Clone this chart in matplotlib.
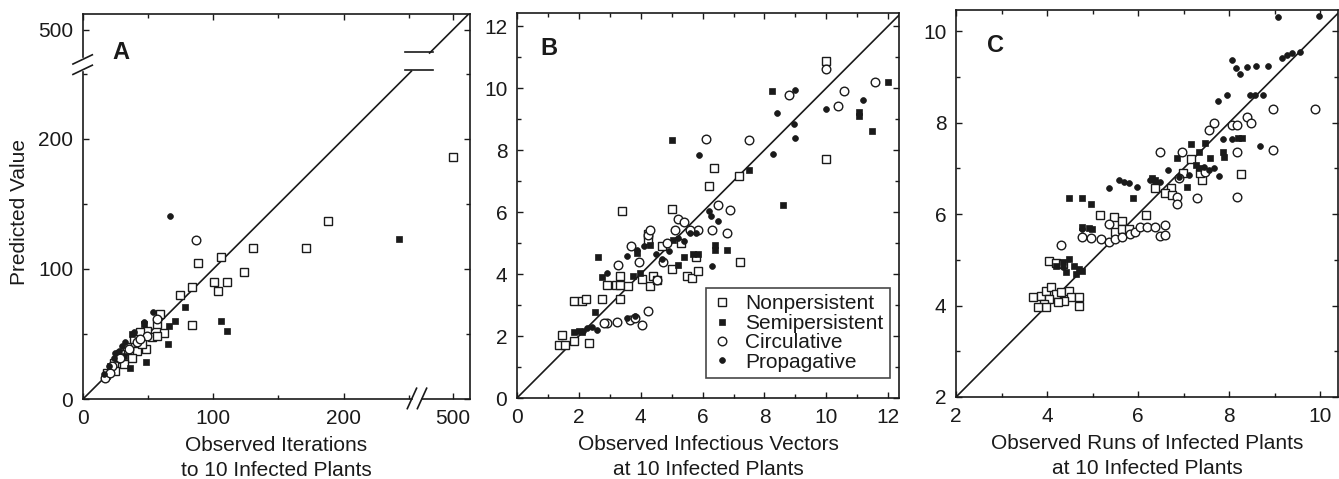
import matplotlib
matplotlib.use("Agg")
import matplotlib.pyplot as plt
from matplotlib.lines import Line2D
import numpy as np

plt.rcParams['font.family'] = ['Liberation Sans', 'DejaVu Sans']

# ---- panel A: iterations to 10 infected plants ----
a_non_x = [500, 187.7, 171.4, 130.4, 123.3, 110.5, 100.3, 103.6, 106.1, 88.0, 83.6, 74.2, 83.6,
           61.9, 58.8, 56.8, 49.1, 48.3, 44.0, 38.9, 33.8, 28.6, 23.5, 18.4, 41.4, 52.9, 45.3,
           37.6, 31.2, 24.8, 56.8]
a_non_y = [185.8, 136.6, 116.4, 116.4, 97.3, 90.0, 90.0, 83.1, 109.4, 104.3, 86.2, 79.7, 57.2,
           50.5, 65.5, 57.7, 52.5, 38.3, 51.2, 46.1, 39.6, 34.4, 27.9, 20.2, 37.0, 47.3, 42.2,
           31.8, 26.6, 21.5, 48.6]
a_semi_x = [242.2, 106.1, 110.5, 78.0, 70.8, 65.0, 65.7, 48.6, 36.3, 46.5, 37.6, 31.2, 26.1, 21.0, 18.4]
a_semi_y = [122.9, 59.8, 52.0, 70.6, 59.8, 42.2, 56.4, 28.5, 24.1, 57.7, 49.9, 33.1, 30.5, 25.4, 17.6]
a_circ_x = [87.0, 56.8, 49.1, 41.4, 35.0, 28.6, 22.3, 17.1, 21.0, 44.0]
a_circ_y = [121.9, 61.6, 48.6, 43.5, 38.3, 31.8, 25.4, 16.3, 20.2, 46.1]
a_prop_x = [67.0, 53.7, 46.5, 38.9, 32.5, 27.4, 23.5, 19.7, 15.9, 29.9, 24.8]
a_prop_y = [141.0, 66.8, 59.0, 51.2, 43.5, 37.0, 31.8, 25.4, 18.9, 40.9, 35.7]

# ---- panel B: infectious vectors ----
b_non_x = [1.35, 1.45, 1.56, 1.83, 2.34, 1.83, 2.1, 2.23, 2.74, 2.9, 3.2, 3.33, 3.33, 3.6, 3.33,
           4.3, 4.03, 4.41, 4.52, 3.41, 5.0, 4.25, 4.25, 5.0, 5.5, 5.65, 5.84, 5.8, 7.2, 6.2,
           6.38, 7.17, 10.0, 10.0, 5.3, 4.7]
b_non_y = [1.72, 2.02, 1.72, 1.83, 1.77, 3.14, 3.14, 3.2, 3.2, 3.63, 3.63, 3.63, 3.19, 3.6, 3.92,
           3.6, 3.84, 3.95, 3.82, 6.04, 6.10, 5.3, 5.1, 4.16, 3.92, 3.87, 4.09, 4.54, 4.38, 6.85,
           7.42, 7.15, 10.86, 7.71, 5.0, 4.9]
b_semi_x = [5.0, 8.26, 8.6, 11.48, 11.99, 11.05, 11.05, 7.5, 2.63, 2.74, 2.53, 1.83, 2.0, 2.1,
            6.4, 6.4, 6.8, 5.22, 5.41, 5.7, 5.86, 3.87, 3.76, 3.98, 5.05, 4.3]
b_semi_y = [8.33, 9.89, 6.24, 8.62, 10.2, 9.22, 9.1, 7.37, 4.54, 3.89, 2.77, 2.13, 2.17, 2.13,
            4.95, 4.76, 4.78, 4.28, 4.54, 4.65, 4.63, 4.68, 3.92, 4.03, 5.1, 4.95]
b_circ_x = [9.98, 8.8, 10.56, 10.38, 11.56, 6.1, 7.5, 6.5, 6.9, 6.8, 6.29, 5.86, 5.22, 5.41, 5.1,
            3.7, 3.25, 4.22, 4.03, 3.66, 3.82, 3.23, 2.9, 2.8, 4.52, 4.73, 4.25, 4.3, 3.96, 5.6, 4.84]
b_circ_y = [10.6, 9.78, 9.89, 9.41, 10.2, 8.35, 8.33, 6.24, 6.05, 5.32, 5.41, 5.43, 5.77, 5.67, 5.41,
            4.89, 4.28, 2.8, 2.37, 2.53, 2.58, 2.44, 2.42, 2.42, 3.82, 4.4, 5.27, 5.43, 4.4, 5.43, 5.0]
b_prop_x = [8.98, 8.39, 8.96, 8.98, 8.28, 5.89, 9.98, 11.18, 6.2, 6.27, 6.5, 6.29, 2.9, 2.58, 2.26,
            2.42, 3.55, 3.82, 2.15, 3.87, 3.55, 4.5, 4.9, 5.2, 5.4, 5.6, 5.8, 4.1, 4.7]
b_prop_y = [9.95, 9.19, 8.84, 8.39, 7.87, 7.85, 9.32, 9.62, 6.04, 5.88, 5.7, 4.27, 4.03, 2.2, 2.26,
            2.29, 2.58, 2.66, 2.15, 4.78, 4.57, 4.63, 4.74, 5.16, 5.05, 5.32, 5.32, 4.9, 4.5]

# ---- panel C: runs of infected plants ----
c_non_x = [8.26, 5.16, 5.47, 5.65, 6.18, 6.71, 6.6, 6.74, 6.38, 6.99, 7.17, 7.40, 7.36, 5.50, 5.65,
           5.80, 4.04, 4.19, 4.34, 3.68, 3.86, 3.97, 4.08, 4.19, 4.30, 4.48, 4.52, 4.69, 4.69,
           4.37, 4.23, 4.04, 3.93, 3.97, 3.79]
c_non_y = [6.87, 5.97, 5.93, 5.84, 5.97, 6.57, 6.45, 6.41, 6.56, 6.89, 7.21, 6.74, 6.89, 5.60, 5.68,
           5.68, 4.98, 4.94, 4.91, 4.18, 4.21, 4.32, 4.40, 4.25, 4.29, 4.32, 4.18, 4.18, 4.0,
           4.1, 4.08, 4.14, 4.03, 3.96, 3.96]
c_semi_x = [4.48, 4.77, 4.96, 5.89, 7.17, 7.47, 7.57, 6.85, 7.07, 7.86, 7.88, 8.2, 8.28, 4.77, 4.92,
            4.99, 4.19, 4.34, 4.48, 4.59, 4.70, 4.77, 4.41, 4.63, 6.31, 6.38, 7.26, 7.33, 7.33]
c_semi_y = [6.36, 6.36, 6.23, 6.34, 7.53, 7.55, 7.23, 7.23, 6.59, 7.36, 7.25, 7.66, 7.66, 5.71, 5.69,
            5.68, 4.87, 4.95, 5.02, 4.87, 4.80, 4.76, 4.73, 4.69, 6.78, 6.74, 7.07, 7.00, 7.36]
c_circ_x = [8.97, 9.88, 8.97, 8.17, 8.17, 8.39, 8.48, 8.06, 8.17, 7.55, 7.66, 7.29, 6.47, 6.96, 6.85,
            6.85, 6.89, 4.30, 4.77, 4.96, 5.18, 5.36, 5.50, 5.65, 5.83, 5.94, 6.05, 6.20, 6.38,
            6.49, 6.58, 6.58, 5.36, 7.47]
c_circ_y = [8.29, 8.29, 7.40, 6.37, 7.36, 8.13, 7.99, 7.95, 7.95, 7.84, 7.98, 6.36, 7.36, 7.35, 6.37,
            6.23, 6.78, 5.33, 5.49, 5.47, 5.46, 5.38, 5.46, 5.49, 5.57, 5.60, 5.71, 5.71, 5.71,
            5.53, 5.55, 5.77, 5.79, 6.92]
c_prop_x = [9.07, 9.98, 8.06, 8.15, 8.24, 8.39, 8.58, 8.86, 9.15, 9.26, 9.37, 9.55, 7.75, 7.95, 8.46,
            8.57, 8.75, 8.68, 7.86, 8.06, 7.77, 6.66, 5.36, 5.58, 5.69, 5.80, 5.98, 6.27, 6.38,
            6.49, 6.89, 7.11, 7.44, 7.55, 7.66, 4.77, 4.34]
c_prop_y = [10.31, 10.33, 9.36, 9.19, 9.06, 9.21, 9.23, 9.23, 9.41, 9.47, 9.52, 9.54, 8.48, 8.61, 8.61,
            8.61, 8.61, 7.49, 7.64, 7.64, 6.83, 6.96, 6.57, 6.74, 6.70, 6.67, 6.59, 6.75, 6.72,
            6.70, 6.81, 6.85, 7.03, 6.96, 7.00, 5.68, 4.84]

labels = ['Nonpersistent', 'Semipersistent', 'Circulative', 'Propagative']
ink = '#1a1a1a'
styles = [dict(marker='s', ms=6.0, mfc='white', mec=ink, mew=1.0),
          dict(marker='s', ms=4.2, mfc=ink, mec=ink, mew=0.5),
          dict(marker='o', ms=6.2, mfc='white', mec=ink, mew=1.0),
          dict(marker='o', ms=4.2, mfc=ink, mec=ink, mew=0.5)]

FS = 15

# broken axis for panel A: 0-253 linear, 253-477 squeezed, >=477 linear again
def fwd(v):
    v = np.asarray(v, float)
    return np.where(v <= 253, v, np.where(v >= 477, v - 216, 253 + (v - 253) * 8 / 224))

def inv(f):
    f = np.asarray(f, float)
    return np.where(f <= 253, f, np.where(f >= 261, f + 216, 253 + (f - 253) * 224 / 8))


def style_axes(ax):
    ax.tick_params(which='both', direction='in', top=True, right=True,
                   labelsize=FS, color=ink, labelcolor=ink)
    ax.tick_params(which='major', length=4.5, width=1.0, pad=7)
    ax.tick_params(which='minor', length=3, width=1.0)
    ax.tick_params(axis='y', which='major', pad=7)
    for s in ax.spines.values():
        s.set_linewidth(1.2)
        s.set_color(ink)


def scatter_groups(ax, series):
    handles = []
    for (xs, ys), st, lab in zip(series, styles, labels):
        h, = ax.plot(xs, ys, ls='none', label=lab, zorder=3, **st)
        handles.append(h)
    return handles


fig = plt.figure(figsize=(13.39, 4.79), dpi=100)

# ---------- A ----------
axA = fig.add_axes([0.0620, 0.1670, 0.2890, 0.8038])
axA.set_xscale('function', functions=(fwd, inv))
axA.set_yscale('function', functions=(fwd, inv))
axA.set_xlim(0, 513)
axA.set_ylim(0, 512)
scatter_groups(axA, [(a_non_x, a_non_y), (a_semi_x, a_semi_y),
                     (a_circ_x, a_circ_y), (a_prop_x, a_prop_y)])
axA.set_xticks([0, 100, 200, 500])
axA.set_yticks([0, 100, 200, 500])
axA.set_xticks([50, 150, 250], minor=True)
axA.set_yticks([50, 150, 250], minor=True)
style_axes(axA)

# identity line in two pieces around the break, with "=" marks
lo, hi = 252, 482
axA.plot([0, lo], [0, lo], color=ink, lw=1.2, zorder=2)
axA.plot([hi, 513], [hi, 513], color=ink, lw=1.2, zorder=2)
for yy in (253, 482.7):
    axA.plot([247, 484.5], [yy, yy], color=ink, lw=1.2, zorder=2)

# broken left and bottom spines
axA.spines['left'].set_visible(False)
axA.spines['bottom'].set_visible(False)
tr = axA.transAxes
yb0, yb1 = 0.849, 0.888
xb0, xb1 = 0.850, 0.876
for seg in ([(0, 0), (0, yb0)], [(0, 0), (yb1, 1)]):
    axA.add_line(Line2D(seg[0], seg[1], transform=tr, color=ink, lw=1.2, clip_on=False))
for seg in ([(0, xb0), (0, 0)], [(xb1, 1), (0, 0)]):
    axA.add_line(Line2D(seg[0], seg[1], transform=tr, color=ink, lw=1.2, clip_on=False))
for yb in (yb0 + 0.006, yb1 - 0.006):
    axA.add_line(Line2D([-0.026, 0.024], [yb - 0.012, yb + 0.012], transform=tr,
                        color=ink, lw=1.2, clip_on=False))
for xb in (xb0, xb1):
    axA.add_line(Line2D([xb - 0.012, xb + 0.012], [-0.025, 0.028], transform=tr,
                        color=ink, lw=1.2, clip_on=False))

axA.set_xlabel('Observed Iterations\nto 10 Infected Plants', fontsize=FS, color=ink, linespacing=1.4)
axA.xaxis.set_label_coords(0.5, -0.095)
axA.set_ylabel('Predicted Value', fontsize=FS, color=ink)
axA.yaxis.set_label_coords(-0.14, 0.486)
axA.text(0.075, 0.901, 'A', transform=tr, fontsize=17, fontweight='bold',
         ha='left', va='center', color=ink)

# ---------- B ----------
axB = fig.add_axes([0.3861, 0.1691, 0.2853, 0.8038])
axB.set_xlim(0, 12.35)
axB.set_ylim(0, 12.42)
hB = scatter_groups(axB, [(b_non_x, b_non_y), (b_semi_x, b_semi_y),
                          (b_circ_x, b_circ_y), (b_prop_x, b_prop_y)])
lim = [0, 12.5]
axB.plot(lim, lim, color=ink, lw=1.2, zorder=2)
axB.set_xticks(np.arange(0, 13, 2))
axB.set_yticks(np.arange(0, 13, 2))
axB.set_xticks(np.arange(1, 13, 2), minor=True)
axB.set_yticks(np.arange(1, 13, 2), minor=True)
style_axes(axB)
axB.set_xlabel('Observed Infectious Vectors\nat 10 Infected Plants', fontsize=FS, color=ink, linespacing=1.4)
axB.xaxis.set_label_coords(0.5, -0.095)
axB.text(0.06, 0.909, 'B', transform=axB.transAxes, fontsize=17, fontweight='bold',
         ha='left', va='center', color=ink)
leg = axB.legend(handles=hB, loc='lower right', bbox_to_anchor=(0.976, 0.052),
                 fontsize=FS, frameon=True, fancybox=False, borderpad=0.3,
                 labelspacing=0.02, handlelength=1.0, handletextpad=0.6, borderaxespad=0)
leg.get_frame().set_edgecolor(ink)
leg.get_frame().set_linewidth(1.2)
for t in leg.get_texts():
    t.set_color(ink)

# ---------- C ----------
axC = fig.add_axes([0.7140, 0.1712, 0.2853, 0.8079])
axC.set_xlim(2, 10.39)
axC.set_ylim(2, 10.46)
scatter_groups(axC, [(c_non_x, c_non_y), (c_semi_x, c_semi_y),
                     (c_circ_x, c_circ_y), (c_prop_x, c_prop_y)])
lim = [2, 10.6]
axC.plot(lim, lim, color=ink, lw=1.2, zorder=2)
axC.set_xticks(np.arange(2, 11, 2))
axC.set_yticks(np.arange(2, 11, 2))
axC.set_xticks(np.arange(3, 11, 2), minor=True)
axC.set_yticks(np.arange(3, 11, 2), minor=True)
style_axes(axC)
axC.set_xlabel('Observed Runs of Infected Plants\nat 10 Infected Plants', fontsize=FS, color=ink, linespacing=1.4)
axC.xaxis.set_label_coords(0.5, -0.095)
axC.text(0.081, 0.909, 'C', transform=axC.transAxes, fontsize=17, fontweight='bold',
         ha='left', va='center', color=ink)

fig.savefig('out.png', dpi=100)
